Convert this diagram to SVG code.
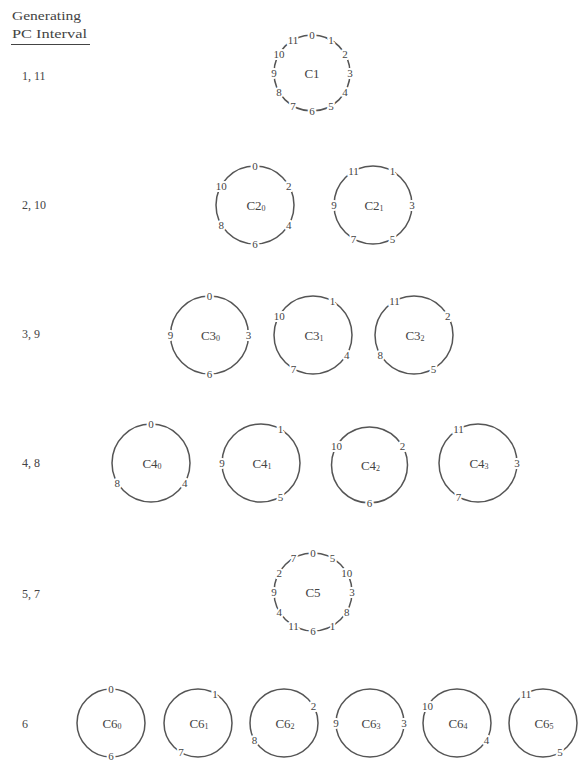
<svg xmlns="http://www.w3.org/2000/svg" width="578" height="761" viewBox="0 0 578 761">
  <style>
    text { font-family: "Liberation Serif", "Times New Roman", "DejaVu Serif", serif; fill: #444; }
    .ring { fill: none; stroke: #555; stroke-width: 1.5; }
    .pc { font-size: 11px; text-anchor: middle; stroke: #fff; stroke-width: 4; paint-order: stroke; stroke-linejoin: round; }
    .name { font-size: 13px; text-anchor: middle; }
    .sub { font-size: 8px; }
    .row { font-size: 12px; }
    .head { font-size: 13.5px; }
  </style>
  <rect width="578" height="761" fill="#fff"/>

  <!-- column heading -->
  <g id="heading">
    <text class="head" x="12" y="20" textLength="69" lengthAdjust="spacingAndGlyphs">Generating</text>
    <text class="head" x="12" y="38" textLength="75" lengthAdjust="spacingAndGlyphs">PC Interval</text>
    <line x1="11" y1="44.5" x2="90" y2="44.5" stroke="#444" stroke-width="1.2"/>
  </g>

  <!-- generating interval labels -->
  <g id="row-labels">
    <text class="row" x="22" y="80">1, 11</text>
    <text class="row" x="22" y="209">2, 10</text>
    <text class="row" x="22" y="338">3, 9</text>
    <text class="row" x="22" y="467">4, 8</text>
    <text class="row" x="22" y="598">5, 7</text>
    <text class="row" x="22" y="728">6</text>
  </g>

  <!-- interval 1: chromatic cycle -->
  <g id="C1">
    <circle class="ring" cx="312" cy="73" r="38"/>
    <text class="name" x="312" y="77.5">C1</text>
    <text class="pc" x="312" y="39">0</text>
    <text class="pc" x="331" y="44">1</text>
    <text class="pc" x="344.9" y="58">2</text>
    <text class="pc" x="350" y="77">3</text>
    <text class="pc" x="344.9" y="96">4</text>
    <text class="pc" x="331" y="110">5</text>
    <text class="pc" x="312" y="115">6</text>
    <text class="pc" x="293" y="110">7</text>
    <text class="pc" x="279.1" y="96">8</text>
    <text class="pc" x="274" y="77">9</text>
    <text class="pc" x="279.1" y="58">10</text>
    <text class="pc" x="293" y="44">11</text>
  </g>

  <!-- interval 2: whole-tone cycles -->
  <g id="C2_0">
    <circle class="ring" cx="255" cy="205" r="39"/>
    <text class="name" x="256" y="209.5">C2<tspan class="sub" dy="1.5">0</tspan></text>
    <text class="pc" x="255" y="170">0</text>
    <text class="pc" x="288.8" y="189.5">2</text>
    <text class="pc" x="288.8" y="228.5">4</text>
    <text class="pc" x="255" y="248">6</text>
    <text class="pc" x="221.2" y="228.5">8</text>
    <text class="pc" x="221.2" y="189.5">10</text>
  </g>
  <g id="C2_1">
    <circle class="ring" cx="373" cy="205" r="39"/>
    <text class="name" x="374" y="209.5">C2<tspan class="sub" dy="1.5">1</tspan></text>
    <text class="pc" x="392.5" y="175.2">1</text>
    <text class="pc" x="412" y="209">3</text>
    <text class="pc" x="392.5" y="242.8">5</text>
    <text class="pc" x="353.5" y="242.8">7</text>
    <text class="pc" x="334" y="209">9</text>
    <text class="pc" x="353.5" y="175.2">11</text>
  </g>

  <!-- interval 3: diminished-seventh cycles -->
  <g id="C3_0">
    <circle class="ring" cx="209.5" cy="335" r="39"/>
    <text class="name" x="210.5" y="339.5">C3<tspan class="sub" dy="1.5">0</tspan></text>
    <text class="pc" x="209.5" y="300">0</text>
    <text class="pc" x="248.5" y="339">3</text>
    <text class="pc" x="209.5" y="378">6</text>
    <text class="pc" x="170.5" y="339">9</text>
  </g>
  <g id="C3_1">
    <circle class="ring" cx="313" cy="335" r="39"/>
    <text class="name" x="314" y="339.5">C3<tspan class="sub" dy="1.5">1</tspan></text>
    <text class="pc" x="332.5" y="305.2">1</text>
    <text class="pc" x="346.8" y="358.5">4</text>
    <text class="pc" x="293.5" y="372.8">7</text>
    <text class="pc" x="279.2" y="319.5">10</text>
  </g>
  <g id="C3_2">
    <circle class="ring" cx="414" cy="335" r="39"/>
    <text class="name" x="415" y="339.5">C3<tspan class="sub" dy="1.5">2</tspan></text>
    <text class="pc" x="447.8" y="319.5">2</text>
    <text class="pc" x="433.5" y="372.8">5</text>
    <text class="pc" x="380.2" y="358.5">8</text>
    <text class="pc" x="394.5" y="305.2">11</text>
  </g>

  <!-- interval 4: augmented-triad cycles -->
  <g id="C4_0">
    <circle class="ring" cx="151" cy="463" r="39"/>
    <text class="name" x="152" y="467.5">C4<tspan class="sub" dy="1.5">0</tspan></text>
    <text class="pc" x="151" y="428">0</text>
    <text class="pc" x="184.8" y="486.5">4</text>
    <text class="pc" x="117.2" y="486.5">8</text>
  </g>
  <g id="C4_1">
    <circle class="ring" cx="261" cy="463" r="39"/>
    <text class="name" x="262" y="467.5">C4<tspan class="sub" dy="1.5">1</tspan></text>
    <text class="pc" x="280.5" y="433.2">1</text>
    <text class="pc" x="280.5" y="500.8">5</text>
    <text class="pc" x="222" y="467">9</text>
  </g>
  <g id="C4_2">
    <circle class="ring" cx="369.5" cy="465" r="38"/>
    <text class="name" x="370.5" y="469.5">C4<tspan class="sub" dy="1.5">2</tspan></text>
    <text class="pc" x="402.4" y="449.5">2</text>
    <text class="pc" x="369.5" y="507">6</text>
    <text class="pc" x="336.6" y="449.5">10</text>
  </g>
  <g id="C4_3">
    <circle class="ring" cx="478" cy="463" r="39"/>
    <text class="name" x="479" y="467.5">C4<tspan class="sub" dy="1.5">3</tspan></text>
    <text class="pc" x="517" y="467">3</text>
    <text class="pc" x="458.5" y="500.8">7</text>
    <text class="pc" x="458.5" y="433.2">11</text>
  </g>

  <!-- interval 5: cycle of fourths/fifths -->
  <g id="C5">
    <circle class="ring" cx="313" cy="592" r="39"/>
    <text class="name" x="313" y="596.5">C5</text>
    <text class="pc" x="313" y="557">0</text>
    <text class="pc" x="332.5" y="562.2">5</text>
    <text class="pc" x="346.8" y="576.5">10</text>
    <text class="pc" x="352" y="596">3</text>
    <text class="pc" x="346.8" y="615.5">8</text>
    <text class="pc" x="332.5" y="629.8">1</text>
    <text class="pc" x="313" y="635">6</text>
    <text class="pc" x="293.5" y="629.8">11</text>
    <text class="pc" x="279.2" y="615.5">4</text>
    <text class="pc" x="274" y="596">9</text>
    <text class="pc" x="279.2" y="576.5">2</text>
    <text class="pc" x="293.5" y="562.2">7</text>
  </g>

  <!-- interval 6: tritone pairs -->
  <g id="C6_0">
    <circle class="ring" cx="111" cy="723" r="34"/>
    <text class="name" x="112" y="727.5">C6<tspan class="sub" dy="1.5">0</tspan></text>
    <text class="pc" x="111" y="693">0</text>
    <text class="pc" x="111" y="759.5">6</text>
  </g>
  <g id="C6_1">
    <circle class="ring" cx="198" cy="723" r="34"/>
    <text class="name" x="199" y="727.5">C6<tspan class="sub" dy="1.5">1</tspan></text>
    <text class="pc" x="215" y="697.6">1</text>
    <text class="pc" x="181" y="756.4">7</text>
  </g>
  <g id="C6_2">
    <circle class="ring" cx="284" cy="723" r="34"/>
    <text class="name" x="285" y="727.5">C6<tspan class="sub" dy="1.5">2</tspan></text>
    <text class="pc" x="313.4" y="710">2</text>
    <text class="pc" x="254.6" y="744">8</text>
  </g>
  <g id="C6_3">
    <circle class="ring" cx="370" cy="723" r="34"/>
    <text class="name" x="371" y="727.5">C6<tspan class="sub" dy="1.5">3</tspan></text>
    <text class="pc" x="404" y="727">3</text>
    <text class="pc" x="336" y="727">9</text>
  </g>
  <g id="C6_4">
    <circle class="ring" cx="457" cy="723" r="34"/>
    <text class="name" x="458" y="727.5">C6<tspan class="sub" dy="1.5">4</tspan></text>
    <text class="pc" x="486.4" y="744">4</text>
    <text class="pc" x="427.6" y="710">10</text>
  </g>
  <g id="C6_5">
    <circle class="ring" cx="543" cy="723" r="34"/>
    <text class="name" x="544" y="727.5">C6<tspan class="sub" dy="1.5">5</tspan></text>
    <text class="pc" x="560" y="756.4">5</text>
    <text class="pc" x="526" y="697.6">11</text>
  </g>

  <!-- no connectors: each cycle is a self-contained ring -->
  <g id="connectors"/>
</svg>
